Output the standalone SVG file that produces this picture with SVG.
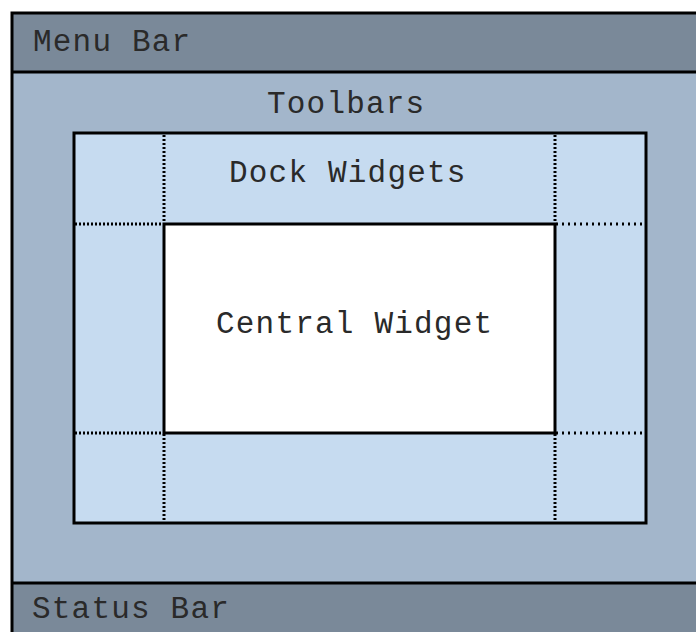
<svg xmlns="http://www.w3.org/2000/svg" width="696" height="632" viewBox="0 0 696 632">
<style>
.t{font-family:"Liberation Mono","Courier New",monospace;font-size:31px;letter-spacing:1.2px;fill:#2a2a2a}
.bar{fill:#7a8999}
.edge{stroke:#000;stroke-width:3;fill:none}
.dot{stroke:#000;stroke-width:3;stroke-dasharray:2 2;fill:none}
.dot2{stroke:#000;stroke-width:3;stroke-dasharray:2 4;fill:none}
</style>
<rect width="696" height="632" fill="#fff"/>
<g id="main">
<rect x="12" y="13" width="690" height="625" fill="#a3b6cb"/>
</g>
<g id="menubar">
<rect x="12" y="13" width="690" height="59" class="bar"/>
<text class="t" x="33" y="51">Menu Bar</text>
</g>
<g id="statusbar">
<rect x="12" y="583" width="690" height="60" class="bar"/>
<text class="t" x="32" y="618">Status Bar</text>
</g>
<g id="toolbars">
<text class="t" x="267" y="113">Toolbars</text>
</g>
<g id="dock">
<rect x="74" y="133" width="572" height="390" class="edge" style="fill:#c6dbf0"/>
<text class="t" x="229" y="182">Dock Widgets</text>
</g>
<g id="central">
<rect x="164" y="224" width="391" height="209" class="edge" style="fill:#fff"/>
<text class="t" x="216" y="333">Central Widget</text>
</g>
<g id="connectors">
<path class="dot" d="M164 135V223M555 135V223M164 434V522M555 434V522M75 224H163M75 433H163"/>
<path class="dot2" d="M556 224H645M556 433H645"/>
</g>
<g id="frame">
<path class="edge" d="M12 700V13H700M12 72H700M12 583H700"/>
</g>
</svg>
